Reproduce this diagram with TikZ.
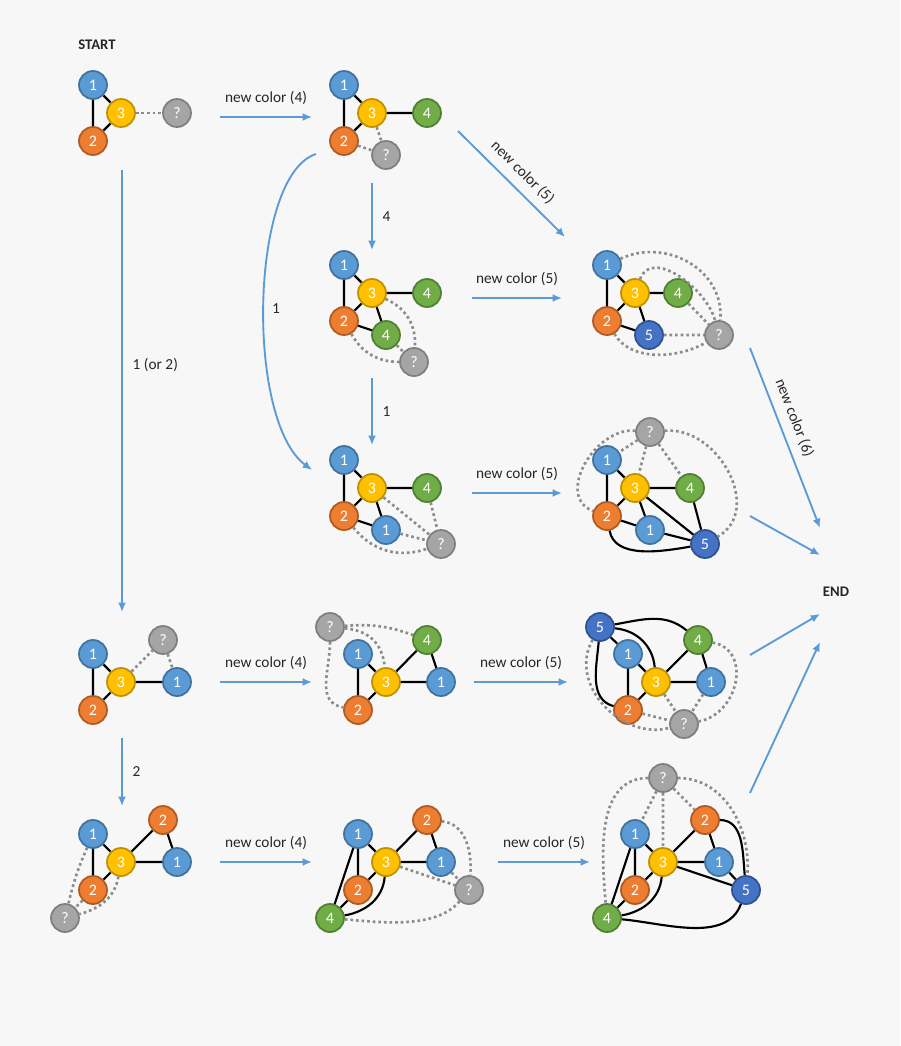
\documentclass[tikz,border=0pt]{standalone}
\usepackage{fontspec}
\setmainfont{Carlito}
\begin{document}
\begin{tikzpicture}[x=0.75pt,y=-0.75pt,
  v/.style={circle,draw,line width=1.3pt,minimum size=21pt,inner sep=0pt,text=white,font=\fontsize{12}{12}\selectfont},
  cb/.style={v,fill=cblue,draw=cblueD},
  cy/.style={v,fill=cyel,draw=cyelD},
  co/.style={v,fill=corg,draw=corgD},
  cg/.style={v,fill=cgrn,draw=cgrnD},
  cd/.style={v,fill=cdb,draw=cdbD},
  cq/.style={v,fill=cgry,draw=cgryD},
  e/.style={line width=1.6pt,black},
  d/.style={line width=2pt,draw=dotc,dash pattern=on 2pt off 2.2pt},
  ar/.style={line width=1.4pt,draw=arc,-{Latex[length=7pt,width=6pt]}},
  lab/.style={font=\fontsize{11.5}{13}\selectfont,text=black!85},
]
\definecolor{cblue}{HTML}{5B9BD5}\definecolor{cblueD}{HTML}{41719C}
\definecolor{cyel}{HTML}{FFC000}\definecolor{cyelD}{HTML}{BF9000}
\definecolor{corg}{HTML}{ED7D31}\definecolor{corgD}{HTML}{AE5A21}
\definecolor{cgrn}{HTML}{70AD47}\definecolor{cgrnD}{HTML}{507E32}
\definecolor{cdb}{HTML}{4472C4}\definecolor{cdbD}{HTML}{2F528F}
\definecolor{cgry}{HTML}{A5A5A5}\definecolor{cgryD}{HTML}{7F7F7F}
\definecolor{dotc}{HTML}{8C8C8C}\definecolor{arc}{HTML}{5B9BD5}
\definecolor{bg}{HTML}{F7F7F7}
\fill[bg] (0,0) rectangle (900,1046);
\useasboundingbox (0,0) rectangle (900,1046);
\usetikzlibrary{arrows.meta}
\node[lab,font=\bfseries\fontsize{11}{12}\selectfont] (start) at (97,45) {START};
\node[lab,font=\bfseries\fontsize{11}{12}\selectfont] (end) at (836,592) {END};
% G1
\node[cb] (a1) at (93,85) {1}; \node[cy] (a3) at (121,113) {3};
\node[co] (a2) at (93,141) {2}; \node[cq] (aq) at (177,113) {?};
\draw[e] (a1)--(a3) (a1)--(a2) (a2)--(a3); \draw[d] (a3)--(aq);
% G2
\node[cb] (b1) at (344,85) {1}; \node[cy] (b3) at (372,113) {3};
\node[cg] (b4) at (427,113) {4}; \node[co] (b2) at (344,141) {2};
\node[cq] (bq) at (386,155) {?};
\draw[e] (b1)--(b3) (b1)--(b2) (b2)--(b3) (b3)--(b4);
\draw[d] (b3)--(bq) (b2)--(bq);
% G3
\node[cb] (c1) at (344,265) {1}; \node[cy] (c3) at (372,293) {3};
\node[cg] (c4) at (427,293) {4}; \node[co] (c2) at (344,321) {2};
\node[cg] (c4b) at (386,335) {4}; \node[cq] (cqq) at (414,362) {?};
\draw[e] (c1)--(c3) (c1)--(c2) (c2)--(c3) (c3)--(c4) (c3)--(c4b) (c2)--(c4b);
\draw[d] (c3) to[bend left=35] (cqq); \draw[d] (c2) to[bend right=30] (cqq); \draw[d] (c4b)--(cqq);
% G4
\node[cb] (g1) at (344,460) {1}; \node[cy] (g3) at (372,488) {3};
\node[cg] (g4) at (427,488) {4}; \node[co] (g2) at (344,516) {2};
\node[cb] (g1b) at (386,530) {1}; \node[cq] (gq) at (441,544) {?};
\draw[e] (g1)--(g3) (g1)--(g2) (g2)--(g3) (g3)--(g4) (g3)--(g1b) (g2)--(g1b);
\draw[d] (g3)--(gq) (g4)--(gq) (g1b)--(gq); \draw[d] (g2) to[bend right=35] (gq);
% G5
\node[cb] (e1) at (607,265) {1}; \node[cy] (e3) at (635,293) {3};
\node[cg] (e4) at (678,293) {4}; \node[co] (e2) at (607,321) {2};
\node[cd] (e5) at (649,335) {5}; \node[cq] (eq) at (719,335) {?};
\draw[e] (e1)--(e3) (e1)--(e2) (e2)--(e3) (e3)--(e4) (e3)--(e5) (e2)--(e5);
\draw[d] (e5)--(eq) (e4)--(eq);
\draw[d] (e1) to[out=25,in=85,looseness=1.1] (eq);
\draw[d] (e3) to[out=70,in=105,looseness=1.0] (eq);
\draw[d] (e2) to[out=-60,in=-150,looseness=0.9] (eq);
% G6
\node[cq] (fq) at (650,432) {?}; \node[cb] (f1) at (607,460) {1};
\node[cy] (f3) at (635,488) {3}; \node[cg] (f4) at (690,488) {4};
\node[co] (f2) at (607,516) {2}; \node[cb] (f1b) at (650,530) {1};
\node[cd] (f5) at (705,544) {5};
\draw[e] (f1)--(f3) (f1)--(f2) (f2)--(f3) (f3)--(f4) (f3)--(f1b) (f2)--(f1b) (f3)--(f5) (f4)--(f5) (f1b)--(f5);
\draw[e] (f2) to[out=-80,in=-170,looseness=0.9] (f5);
\draw[d] (fq)--(f1) (fq)--(f3) (fq)--(f4);
\draw[d] (fq) to[out=175,in=160,looseness=1.15] (f2);
\draw[d] (fq) to[out=5,in=30,looseness=1.15] (f5);
% G7
\node[cb] (h1) at (93,654) {1}; \node[cy] (h3) at (121,682) {3};
\node[cb] (h1b) at (177,682) {1}; \node[co] (h2) at (93,710) {2};
\node[cq] (hq) at (163,640) {?};
\draw[e] (h1)--(h3) (h1)--(h2) (h2)--(h3) (h3)--(h1b);
\draw[d] (h3)--(hq) (hq)--(h1b);
% G8
\node[cq] (iq) at (330,627) {?}; \node[cb] (i1) at (358,654) {1};
\node[cy] (i3) at (386,682) {3}; \node[cg] (i4) at (427,640) {4};
\node[cb] (i1b) at (441,682) {1}; \node[co] (i2) at (358,710) {2};
\draw[e] (i1)--(i3) (i1)--(i2) (i2)--(i3) (i3)--(i4) (i3)--(i1b) (i4)--(i1b);
\draw[d] (iq) to[bend left=12] (i4);
\draw[d] (iq) to[out=-5,in=95,looseness=1.1] (i3);
\draw[d] (iq) to[out=-90,in=170,looseness=1.1] (i2);
% G9
\node[cd] (j5) at (600,627) {5}; \node[cb] (j1) at (628,654) {1};
\node[cy] (j3) at (656,682) {3}; \node[cg] (j4) at (698,640) {4};
\node[cb] (j1b) at (711,682) {1}; \node[co] (j2) at (628,710) {2};
\node[cq] (jq) at (684,724) {?};
\draw[e] (j1)--(j3) (j1)--(j2) (j2)--(j3) (j3)--(j4) (j3)--(j1b) (j4)--(j1b) (j5)--(j1);
\draw[e] (j5) to[out=10,in=140,looseness=1.0] (j4);
\draw[e] (j5) to[out=-5,in=95,looseness=1.0] (j3);
\draw[e] (j5) to[out=-95,in=165,looseness=1.0] (j2);
\draw[d] (j3)--(jq) (j1b)--(jq) (j2)--(jq);
\draw[d] (j5) to[out=-120,in=-165,looseness=1.1] (jq);
\draw[d] (j4) to[out=-10,in=10,looseness=1.3] (jq);
% G10
\node[cb] (k1) at (93,834) {1}; \node[cy] (k3) at (121,862) {3};
\node[co] (k2b) at (163,820) {2}; \node[cb] (k1b) at (177,862) {1};
\node[co] (k2) at (93,890) {2}; \node[cq] (kq) at (65,918) {?};
\draw[e] (k1)--(k3) (k1)--(k2) (k2)--(k3) (k3)--(k2b) (k3)--(k1b) (k2b)--(k1b);
\draw[d] (k1) to[bend right=5] (kq); \draw[d] (k2)--(kq);
\draw[d] (k3) to[out=-100,in=15,looseness=1.0] (kq);
% G11
\node[cb] (m1) at (358,834) {1}; \node[cy] (m3) at (386,862) {3};
\node[co] (m2b) at (427,820) {2}; \node[cb] (m1b) at (441,862) {1};
\node[co] (m2) at (358,890) {2}; \node[cg] (m4) at (330,918) {4};
\node[cq] (mq) at (469,890) {?};
\draw[e] (m1)--(m3) (m1)--(m2) (m2)--(m3) (m3)--(m2b) (m3)--(m1b) (m2b)--(m1b) (m4)--(m1) (m4)--(m2);
\draw[e] (m4) to[out=10,in=-95,looseness=1.0] (m3);
\draw[d] (m3)--(mq) (m1b)--(mq);
\draw[d] (m2b) to[out=-5,in=85,looseness=1.0] (mq);
\draw[d] (m4) to[out=-5,in=-130,looseness=0.8] (mq);
% G12
\node[cq] (nq) at (663,778) {?}; \node[cb] (n1) at (635,834) {1};
\node[cy] (n3) at (663,862) {3}; \node[co] (n2b) at (705,820) {2};
\node[cb] (n1b) at (719,862) {1}; \node[co] (n2) at (635,890) {2};
\node[cg] (n4) at (607,918) {4}; \node[cd] (n5) at (746,890) {5};
\draw[e] (n1)--(n3) (n1)--(n2) (n2)--(n3) (n3)--(n2b) (n3)--(n1b) (n2b)--(n1b) (n4)--(n1) (n4)--(n2) (n3)--(n5) (n1b)--(n5);
\draw[e] (n4) to[out=10,in=-95,looseness=1.0] (n3);
\draw[e] (n2b) to[out=0,in=95,looseness=1.0] (n5);
\draw[e] (n4) to[out=-5,in=-110,looseness=0.9] (n5);
\draw[d] (nq)--(n1) (nq)--(n3) (nq)--(n2b);
\draw[d] (nq) to[out=180,in=95,looseness=1.0] (n4);
\draw[d] (nq) to[out=0,in=85,looseness=1.0] (n5);
% arrows
\coordinate (p1s) at (220,117); \coordinate (p1e) at (312,117);
\draw[ar] (p1s)--(p1e) node[lab,midway,above=5pt] {new color (4)};
\coordinate (p2s) at (122,170); \coordinate (p2e) at (122,612);
\draw[ar] (p2s)--(p2e) node[lab,pos=0.44,right=4pt] {1 (or 2)};
\coordinate (p3s) at (372,183); \coordinate (p3e) at (372,250);
\draw[ar] (p3s)--(p3e) node[lab,midway,right=4pt] {4};
\coordinate (p4s) at (316,154); \coordinate (p4e) at (312,470);
\draw[ar] (p4s) .. controls (250,175) and (245,420) .. (p4e);
\node[lab] (l1) at (276,309) {1};
\coordinate (p5s) at (372,378); \coordinate (p5e) at (372,445);
\draw[ar] (p5s)--(p5e) node[lab,midway,right=4pt] {1};
\coordinate (p6s) at (458,131); \coordinate (p6e) at (565,237);
\draw[ar] (p6s)--(p6e) node[lab,pos=0.5,sloped,above=3pt] {new color (5)};
\coordinate (p7s) at (472,298); \coordinate (p7e) at (562,298);
\draw[ar] (p7s)--(p7e) node[lab,midway,above=5pt] {new color (5)};
\coordinate (p8s) at (472,493); \coordinate (p8e) at (562,493);
\draw[ar] (p8s)--(p8e) node[lab,midway,above=5pt] {new color (5)};
\coordinate (p9s) at (750,348); \coordinate (p9e) at (820,528);
\draw[ar] (p9s)--(p9e) node[lab,pos=0.42,sloped,above=3pt] {new color (6)};
\coordinate (q1s) at (750,516); \coordinate (q1e) at (820,555);
\draw[ar] (q1s)--(q1e);
\coordinate (q2s) at (750,655); \coordinate (q2e) at (820,614);
\draw[ar] (q2s)--(q2e);
\coordinate (q3s) at (750,793); \coordinate (q3e) at (820,642);
\draw[ar] (q3s)--(q3e);
\coordinate (q4s) at (220,682); \coordinate (q4e) at (312,682);
\draw[ar] (q4s)--(q4e) node[lab,midway,above=5pt] {new color (4)};
\coordinate (q5s) at (474,682); \coordinate (q5e) at (568,682);
\draw[ar] (q5s)--(q5e) node[lab,midway,above=5pt] {new color (5)};
\coordinate (q6s) at (122,738); \coordinate (q6e) at (122,806);
\draw[ar] (q6s)--(q6e) node[lab,midway,right=4pt] {2};
\coordinate (q7s) at (220,862); \coordinate (q7e) at (312,862);
\draw[ar] (q7s)--(q7e) node[lab,midway,above=5pt] {new color (4)};
\coordinate (q8s) at (498,862); \coordinate (q8e) at (590,862);
\draw[ar] (q8s)--(q8e) node[lab,midway,above=5pt] {new color (5)};
\end{tikzpicture}
\end{document}
